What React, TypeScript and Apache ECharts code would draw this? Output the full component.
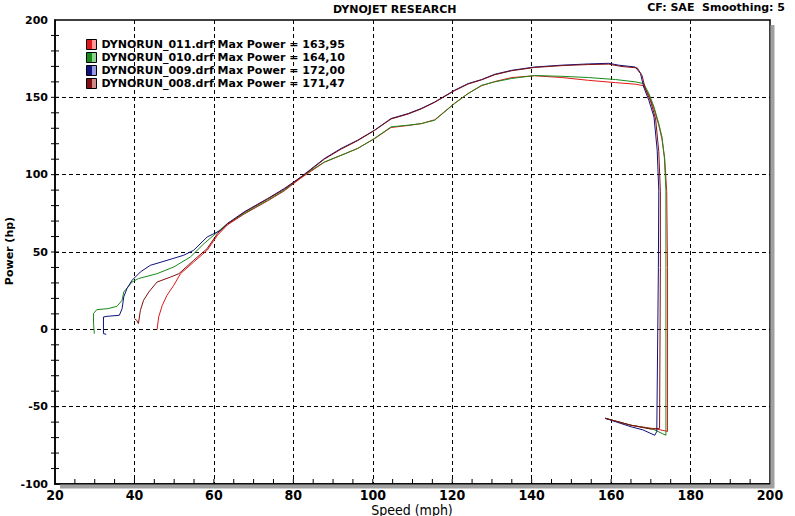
import React, { useEffect, useRef } from "react";
import * as echarts from "echarts";

const runNames = [
  "DYNORUN_011.drf Max Power = 163,95",
  "DYNORUN_010.drf Max Power = 164,10",
  "DYNORUN_009.drf Max Power = 172,00",
  "DYNORUN_008.drf Max Power = 171,47",
];
const runColors = ["#e01818", "#188a18", "#10107e", "#801010"];
const runLight = ["#ff9a9a", "#8fd08f", "#9a9ae0", "#d08a8a"];

// [speed (mph), power (hp)]
const run011: number[][] = [
  [45.7, -0.2], [46.1, 8], [47.0, 15.5], [48.2, 22], [49.9, 28.5], [51.6, 36], [54.9, 43.5],
  [58.3, 51.1], [60.9, 60.8], [63.4, 67.5], [67.6, 74.5], [73.5, 83], [77.7, 89.5], [81.9, 97.8],
  [87.8, 108], [92.0, 112.5], [96.2, 117], [100.4, 123.2], [104.6, 130.5], [108.9, 131.8],
  [112.2, 133], [115.6, 135.5], [120.6, 146.2], [124.0, 152.5], [127.4, 157.5], [130.7, 160.2],
  [135.0, 162.8], [140.7, 163.95], [147.6, 162.8], [154.3, 161], [161.1, 159.5], [166.1, 158.5],
  [168.2, 157.5], [169.5, 151.5], [170.8, 142.5], [172.0, 132], [172.8, 123], [173.5, 110],
  [174.0, 89], [174.2, 40], [174.2, -66], [171.5, -64.5], [165, -62], [158.5, -57.5],
];
const run010: number[][] = [
  [29.9, -2.8], [29.7, 4], [29.7, 10.2], [30.5, 12.7], [33.4, 13.4], [35.6, 14.9], [36.9, 18.8],
  [37.3, 24.1], [39.4, 30.6], [41.0, 32.8], [45.7, 36], [49.9, 40.3], [54.1, 46.8], [57.5, 55.4],
  [60.9, 62.9], [63.4, 68.4], [67.6, 74.8], [73.5, 83.4], [77.7, 89.9], [81.9, 98.5],
  [87.8, 108.2], [92.0, 112.5], [96.2, 116.9], [100.4, 123.4], [104.6, 130.9], [108.9, 132],
  [112.2, 133], [115.6, 135.2], [120.6, 146], [124.0, 152.4], [127.4, 157.8], [130.7, 160],
  [135.0, 162.2], [140.7, 164.1], [147.6, 163.6], [154.3, 162.8], [161.1, 161.5], [166.1, 160],
  [168.2, 158.9], [169.5, 152.5], [170.8, 143.8], [172.0, 133], [172.8, 124.4], [173.4, 111.5],
  [173.8, 89.9], [173.8, 40], [173.8, -68.5], [170.5, -64.5], [165, -62], [158.5, -57.5],
];
const run009: number[][] = [
  [32.9, -3.2], [32.2, -2.8], [32.2, 8], [33.1, 8.4], [36.2, 9.1], [36.9, 13.4], [37.3, 20.9],
  [38.1, 26.3], [39.4, 31.7], [41.5, 37.1], [44.0, 41.4], [48.2, 44.6], [52.4, 47.9],
  [54.9, 51.1], [58.3, 59.7], [61.7, 64], [63.4, 68.4], [67.6, 75.9], [73.5, 84.5], [77.7, 91],
  [81.9, 98.5], [87.8, 110.4], [92.0, 116.9], [96.2, 122.3], [100.4, 128.7], [104.6, 136.3],
  [108.9, 139.5], [112.2, 142.8], [115.6, 147], [120.6, 154.6], [124.0, 158.9], [127.4, 161.5],
  [130.7, 164.9], [135.0, 167.5], [140.7, 169.6], [147.6, 170.8], [154.3, 171.6], [159.4, 172.0],
  [161.9, 170.8], [166.1, 169.6], [167.4, 165.4], [168.2, 156.7], [169.5, 148.1], [170.8, 137.3],
  [171.6, 115.8], [172.0, 89.9], [171.9, 40], [171.5, -66], [171.0, -68.5], [168, -65],
  [165, -63], [158.5, -57.5],
];
const run008: number[][] = [
  [40.0, 6.9], [40.6, 5.8], [41.0, 3.7], [41.5, 12.3], [42.3, 18.8], [43.6, 24.1], [45.7, 30.6],
  [49.1, 33.8], [51.2, 36], [54.9, 44.6], [58.3, 52.2], [60.9, 61.9], [63.4, 68], [67.6, 75.5],
  [73.5, 84.2], [77.7, 90.6], [81.9, 98.2], [87.8, 110], [92.0, 116.5], [96.2, 122],
  [100.4, 128.5], [104.6, 136], [108.9, 139.2], [112.2, 142.5], [115.6, 146.8], [120.6, 154.3],
  [124.0, 158.6], [127.4, 161.3], [130.7, 164.6], [135.0, 167.2], [140.7, 169.3], [147.6, 170.5],
  [154.3, 171.2], [159.4, 171.47], [162.5, 170], [166.6, 169], [167.8, 164], [168.6, 155.5],
  [170.0, 147], [171.2, 136], [172.0, 115], [172.4, 89], [172.4, 40], [172.2, -64],
  [170.0, -64.5], [165, -62], [158.5, -57.5],
];
const runs = [run011, run010, run009, run008];

const xTicks = { min: 20, max: 200, interval: 20 };
const yTicks = { min: -100, max: 200, interval: 50 };
const xMinorStep = 5;
const yMinorStep = 10;

const titleText = "DYNOJET RESEARCH";
const infoText = "CF: SAE  Smoothing: 5";
const xName = "Speed (mph)";
const yName = "Power (hp)";

const verdana = "'DejaVu Sans', Verdana, sans-serif";
const narrow = "'Liberation Sans Narrow', 'DejaVu Sans Condensed', sans-serif";

function tickValues(min: number, max: number, step: number): number[] {
  const out: number[] = [];
  for (let v = min + step; v < max; v += step) out.push(v);
  return out;
}

export default function App() {
  const ref = useRef<HTMLDivElement>(null);
  useEffect(() => {
    if (!ref.current) return;
    const chart = echarts.init(ref.current, null, { renderer: "svg" });
    const splitLine = {
      show: true,
      showMinLine: false,
      showMaxLine: false,
      lineStyle: { color: "#000", width: 1, type: [4, 3] },
    };
    const axisLine = { show: true, onZero: false, lineStyle: { color: "#000", width: 1.5 } };
    const xTickData = tickValues(xTicks.min, xTicks.max, xMinorStep).map((v) => [v, yTicks.min]);
    const yTickData = tickValues(yTicks.min, yTicks.max, yMinorStep).map((v) => [xTicks.min, v]);
    chart.setOption({
      animation: false,
      backgroundColor: "#fff",
      grid: {
        left: 55,
        right: 25,
        top: 20,
        bottom: 32,
        show: true,
        borderColor: "#000",
        borderWidth: 1.5,
        backgroundColor: "transparent",
      },
      legend: {
        orient: "vertical",
        left: 86,
        top: 38,
        padding: 0,
        icon: "rect",
        itemWidth: 10,
        itemHeight: 10,
        itemGap: 0,
        selectedMode: false,
        textStyle: {
          fontFamily: verdana,
          fontWeight: "bold",
          fontSize: 11,
          color: "#000",
          lineHeight: 13,
        },
        data: runNames.map((n, i) => ({
          name: n,
          itemStyle: {
            color: new echarts.graphic.LinearGradient(0, 0, 1, 0, [
              { offset: 0, color: runColors[i] },
              { offset: 0.5, color: runColors[i] },
              { offset: 0.5, color: runLight[i] },
              { offset: 1, color: runLight[i] },
            ]),
            borderColor: "#000",
            borderWidth: 1,
          },
        })),
      },
      xAxis: {
        type: "value",
        ...xTicks,
        axisLine,
        axisTick: { show: false },
        axisLabel: {
          fontFamily: narrow,
          fontWeight: "bold",
          fontSize: 14,
          lineHeight: 13,
          color: "#000",
          margin: 4,
        },
        splitLine,
      },
      yAxis: {
        type: "value",
        ...yTicks,
        axisLine,
        axisTick: { show: false },
        axisLabel: {
          fontFamily: verdana,
          fontWeight: "bold",
          fontSize: 11,
          color: "#000",
          margin: 7,
        },
        splitLine,
      },
      series: [
        ...runs.map((d, i) => ({
          name: runNames[i],
          type: "line",
          data: d,
          showSymbol: false,
          symbol: "none",
          color: runColors[i],
          lineStyle: { color: runColors[i], width: 1 },
          z: 3 + i,
        })),
        {
          name: "xTicks",
          type: "custom",
          clip: false,
          silent: true,
          z: 20,
          data: xTickData,
          renderItem: (params: any, api: any) => {
            const p = api.coord([api.value(0), api.value(1)]);
            return {
              type: "line",
              shape: { x1: p[0], y1: p[1], x2: p[0], y2: p[1] - 5 },
              style: { stroke: "#000", lineWidth: 1 },
            };
          },
        },
        {
          name: "yTicks",
          type: "custom",
          clip: false,
          silent: true,
          z: 20,
          data: yTickData,
          renderItem: (params: any, api: any) => {
            const p = api.coord([api.value(0), api.value(1)]);
            return {
              type: "line",
              shape: { x1: p[0] - 4, y1: p[1], x2: p[0] + 4, y2: p[1] },
              style: { stroke: "#000", lineWidth: 1 },
            };
          },
        },
      ],
      graphic: [
        {
          type: "polyline",
          shape: { points: [[772.5, 25], [772.5, 486.5], [60, 486.5]] },
          style: { stroke: "#a0a0a0", lineWidth: 4, fill: null },
          z: 1,
        },
        {
          type: "text",
          left: 333,
          top: 4,
          style: { text: titleText, font: `bold 11px ${verdana}`, fill: "#000" },
        },
        {
          type: "text",
          right: 10,
          top: 2,
          style: { text: infoText, font: `bold 11px ${verdana}`, fill: "#000" },
        },
        {
          type: "text",
          x: 412,
          y: 516,
          style: {
            text: xName,
            font: `14px ${narrow}`,
            lineHeight: 13,
            fill: "#000",
            textAlign: "center",
            textVerticalAlign: "bottom",
          },
        },
        {
          type: "text",
          x: 9,
          y: 251,
          rotation: Math.PI / 2,
          style: {
            text: yName,
            font: `bold 11px ${verdana}`,
            fill: "#000",
            textAlign: "center",
            textVerticalAlign: "middle",
          },
        },
      ],
    });
    return () => chart.dispose();
  }, []);
  return (
    <div
      ref={ref}
      style={{ position: "fixed", left: 0, top: 0, width: 795, height: 516, background: "#fff" }}
    />
  );
}
